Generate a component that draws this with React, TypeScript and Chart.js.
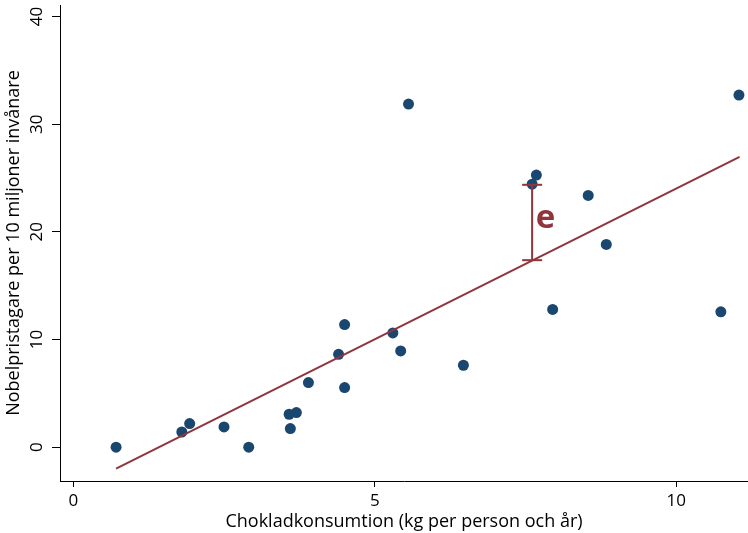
import React, { useEffect, useRef } from 'react';
import { Chart, registerables } from 'chart.js';

Chart.register(...registerables);

// Scatter data: chocolate consumption (kg/person/year) vs Nobel laureates per 10 million
const chocolate = [0.71, 1.80, 1.93, 2.50, 2.91, 3.58, 3.70, 3.60, 3.90, 4.40, 4.50, 4.50, 5.30, 5.43, 5.56, 6.47, 7.61, 7.68, 7.95, 8.54, 8.84, 10.74, 11.04];
const nobel = [0.0, 1.41, 2.19, 1.88, 0.0, 3.06, 3.22, 1.73, 6.00, 8.63, 11.39, 5.54, 10.61, 8.94, 31.87, 7.61, 24.43, 25.27, 12.79, 23.38, 18.83, 12.57, 32.70];

// Fitted regression line endpoints
const fitX = [0.71, 11.05];
const fitY = [-1.99, 26.97];

// Residual bar (e)
const residX = [7.61, 7.61];
const residY = [17.37, 24.37];
const residLabel = 'e';
const residLabelPos = [7.83, 21.2];

const xTicks = [0, 5, 10];
const yTicks = [0, 10, 20, 30, 40];

const xTitle = 'Chokladkonsumtion (kg per person och år)';
const yTitle = 'Nobelpristagare per 10 miljoner invånare';

const NAVY = '#1a476f';
const MAROON = '#90353b';
const FONT = '"Open Sans", "Noto Sans", sans-serif';

export default function App() {
  const ref = useRef<HTMLCanvasElement>(null);

  useEffect(() => {
    if (!ref.current) return;

    const labelPlugin = {
      id: 'customLabels',
      afterDraw(chart: any) {
        const { ctx, scales } = chart;
        const x = scales.x;
        const y = scales.y;
        ctx.save();
        ctx.fillStyle = '#000';
        ctx.font = `17px ${FONT}`;
        ctx.textAlign = 'center';
        ctx.textBaseline = 'middle';
        for (const v of yTicks) {
          const py = y.getPixelForValue(v);
          ctx.save();
          ctx.translate(y.right - 23, py);
          ctx.rotate(-Math.PI / 2);
          ctx.fillText(String(v), 0, 0);
          ctx.restore();
        }
        ctx.fillStyle = MAROON;
        ctx.font = `bold 33px ${FONT}`;
        ctx.fillText(residLabel, x.getPixelForValue(residLabelPos[0]), y.getPixelForValue(residLabelPos[1]));
        ctx.restore();
      },
    };

    const chart = new Chart(ref.current, {
      type: 'scatter',
      data: {
        datasets: [
          {
            type: 'line',
            label: 'resid',
            data: residX.map((v, i) => ({ x: v, y: residY[i] })),
            borderColor: MAROON,
            borderWidth: 2,
            pointStyle: 'line',
            pointRadius: 10,
            pointBorderColor: MAROON,
            pointBorderWidth: 2,
            pointBackgroundColor: MAROON,
            fill: false,
          } as any,
          {
            type: 'line',
            label: 'fit',
            data: fitX.map((v, i) => ({ x: v, y: fitY[i] })),
            borderColor: MAROON,
            borderWidth: 2,
            pointRadius: 0,
            fill: false,
          } as any,
          {
            label: 'data',
            data: chocolate.map((v, i) => ({ x: v, y: nobel[i] })),
            backgroundColor: NAVY,
            borderWidth: 0,
            pointRadius: 5.5,
          },
        ],
      },
      options: {
        responsive: false,
        animation: false,
        devicePixelRatio: 1,
        layout: { autoPadding: false, padding: { top: 5, right: 0, left: 0, bottom: 0 } },
        plugins: {
          legend: { display: false },
          tooltip: { enabled: false },
        },
        scales: {
          x: {
            type: 'linear',
            position: 'bottom',
            min: -0.22,
            max: 11.19,
            afterBuildTicks: (s: any) => {
              s.ticks = xTicks.map((v) => ({ value: v }));
            },
            afterFit: (s: any) => {
              s.height = 52;
            },
            ticks: {
              color: '#000',
              font: { family: FONT, size: 17 },
              padding: 4,
              callback: (v: any) => String(v),
            },
            grid: {
              drawOnChartArea: false,
              drawTicks: true,
              tickLength: 6,
              color: '#000',
              lineWidth: 1,
            },
            border: { display: true, color: '#000', width: 1 },
            title: {
              display: true,
              text: xTitle,
              color: '#000',
              font: { family: FONT, size: 18 },
              padding: { top: 0, bottom: 0 },
            },
          },
          y: {
            type: 'linear',
            min: -3.14,
            max: 41.07,
            afterBuildTicks: (s: any) => {
              s.ticks = yTicks.map((v) => ({ value: v }));
            },
            afterFit: (s: any) => {
              s.width = 60;
            },
            ticks: { display: false },
            grid: {
              drawOnChartArea: false,
              drawTicks: true,
              tickLength: 8,
              color: '#000',
              lineWidth: 1,
            },
            border: { display: true, color: '#000', width: 1 },
            title: {
              display: true,
              text: yTitle,
              color: '#000',
              font: { family: FONT, size: 18 },
              padding: { top: 3, bottom: 0 },
            },
          },
        },
      },
      plugins: [labelPlugin],
    });

    return () => chart.destroy();
  }, []);

  return (
    <div style={{ position: 'absolute', left: 0, top: 0, width: 748, height: 533 }}>
      <canvas ref={ref} width={748} height={533} style={{ display: 'block' }} />
    </div>
  );
}
